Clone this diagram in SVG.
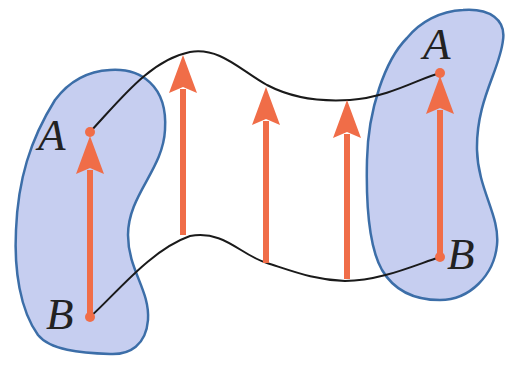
<svg xmlns="http://www.w3.org/2000/svg" width="506" height="365" viewBox="0 0 506 365">
<style>
.blob{fill:#c6cef0;stroke:#3c6ea8;stroke-width:2.5}
.curve{fill:none;stroke:#1a1a1a;stroke-width:2}
.shaft{stroke:#f06d48;stroke-width:6;fill:none;marker-end:url(#head)}
.dot{fill:#f06d48}
.lbl{font-family:"Liberation Serif","DejaVu Serif",serif;font-style:italic;font-size:45px;fill:#222}
</style>
<defs>
<marker id="head" markerUnits="userSpaceOnUse" markerWidth="60" markerHeight="40" refX="0" refY="0" orient="auto" overflow="visible">
<path d="M-4,-14 L34,0 L-4,14 L2,0 Z" fill="#f06d48"/>
</marker>
</defs>
<g id="blob-left">
<path class="blob" d="M110,70 C140,68 168,85 165,130 C163,170 128,195 128,235 C128,270 150,290 148,320 C146,345 130,355 110,354 C80,353 50,350 38,335 C20,310 14,270 16,230 C18,180 30,140 55,100 C70,80 90,71 110,70 Z"/>
</g>
<g id="blob-right">
<path class="blob" d="M463,10 C490,8 506,20 503,40 C500,70 476,100 477,150 C478,190 500,215 497,245 C494,275 470,300 440,300 C415,300 395,292 382,270 C368,245 366,200 367,160 C368,110 385,60 407,38 C420,22 440,11 463,10 Z"/>
</g>
<g id="connectors">
<path class="curve" d="M90,132 C120,100 150,60 190,52 C220,47 240,70 267,85 C290,97 320,102 350,100 C390,97 420,78 440,73"/>
<path class="curve" d="M90,317 C115,295 150,250 190,236 C225,230 240,255 267,263 C295,272 315,280 345,281 C380,281 415,265 440,257"/>
<line class="shaft" x1="90" y1="317" x2="90" y2="170"/>
<line class="shaft" x1="183" y1="235" x2="183" y2="89"/>
<line class="shaft" x1="266" y1="263" x2="266" y2="121"/>
<line class="shaft" x1="347" y1="279" x2="347" y2="134"/>
<line class="shaft" x1="440" y1="257" x2="440" y2="110"/>
<circle class="dot" cx="90" cy="132" r="5"/>
<circle class="dot" cx="90" cy="317" r="5"/>
<circle class="dot" cx="440" cy="73" r="5"/>
<circle class="dot" cx="440" cy="257" r="5"/>
</g>
<g id="labels">
<text class="lbl" x="38" y="150">A</text>
<text class="lbl" x="46" y="329">B</text>
<text class="lbl" x="423" y="59">A</text>
<text class="lbl" x="447" y="269">B</text>
</g>
</svg>
